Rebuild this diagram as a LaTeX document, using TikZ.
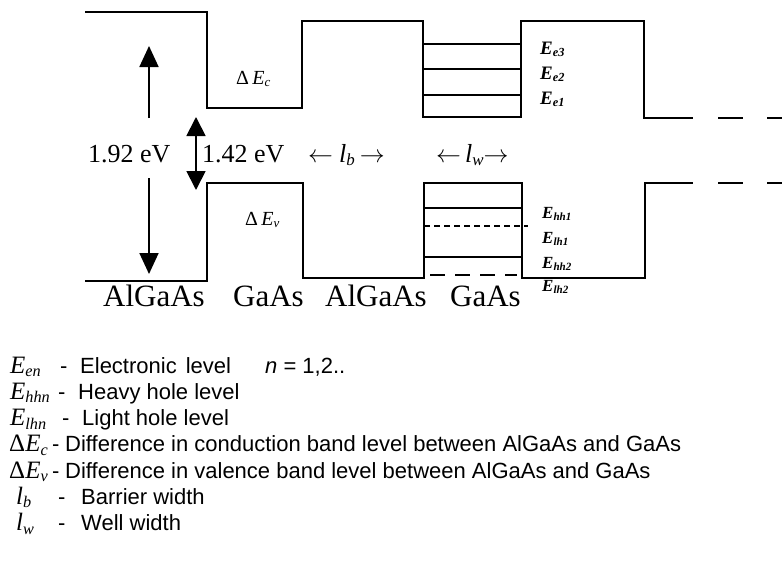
\documentclass[tikz,border=0pt]{standalone}
\usepackage{fontspec}
\usepackage{graphicx}
\setmainfont{Liberation Serif}
\setsansfont{Liberation Sans}
\usetikzlibrary{arrows.meta}
\newcommand\sbx[1]{\raisebox{-0.3ex}{\scalebox{0.65}{\itshape #1}}}
\newcommand\ES[2]{\textit{#1}\sbx{#2}}
\begin{document}
\begin{tikzpicture}[x=1pt,y=-1pt,
  band/.style={line width=1.5pt},
  lvl/.style={line width=1.4pt},
  bigarrow/.style={line width=1.8pt,-{Triangle[width=19pt,length=21pt]}},
  dblarrow/.style={line width=1.8pt,{Triangle[width=19pt,length=19pt]}-{Triangle[width=19pt,length=19pt]}},
  txt/.style={inner sep=0pt,anchor=base west},
  mid/.style={txt,font=\fontsize{26}{30}\selectfont},
  layer/.style={txt,font=\fontsize{31}{34}\selectfont},
  elab/.style={txt,font=\fontsize{19}{21}\selectfont\bfseries},
  hlab/.style={txt,font=\fontsize{17}{19}\selectfont\bfseries},
  dlab/.style={txt,font=\fontsize{20}{22}\selectfont},
  lsym/.style={txt,font=\fontsize{25}{27}\selectfont},
  ltxt/.style={txt,font=\sffamily\fontsize{22}{26}\selectfont}]
\useasboundingbox (0,0) rectangle (782,562);

% conduction band
\draw[band] (85,12) -- (207,12) -- (207,108) -- (302,108) -- (302,21) -- (423,21)
  -- (423,117) -- (521,117) -- (521,21) -- (644,21) -- (644,118) -- (693,118);
\draw[band] (718,118) -- (743,118);
\draw[band] (767,118) -- (782,118);
\draw[lvl] (423,44) -- (521,44);
\draw[lvl] (423,69) -- (521,69);
\draw[lvl] (423,95) -- (521,95);

% valence band
\draw[band] (85,281) -- (207,281) -- (207,183) -- (303,183) -- (303,278) -- (424,278)
  -- (424,183) -- (522,183) -- (522,278) -- (645,278) -- (645,183) -- (693,183);
\draw[band] (718,183) -- (743,183);
\draw[band] (767,183) -- (782,183);
\draw[lvl] (424,208) -- (522,208);
\draw[lvl,dash pattern=on 6pt off 4pt] (424,226) -- (528,226);
\draw[lvl] (424,257) -- (522,257);
\draw[lvl,dash pattern=on 15pt off 10pt] (430,275) -- (517,275);

% arrows
\coordinate (a1s) at (149,118);
\coordinate (a1e) at (149,46);
\coordinate (a2s) at (149,178);
\coordinate (a2e) at (149,274);
\coordinate (a3s) at (196,117);
\coordinate (a3e) at (196,190);
\draw[bigarrow] (a1s) -- (a1e);
\draw[bigarrow] (a2s) -- (a2e);
\draw[dblarrow] (a3s) -- (a3e);

% middle row
\node[mid] (t192) at (88,162) {1.92 eV};
\node[mid] (t142) at (202,162) {1.42 eV};
\node[mid] (tlb) at (308,162) {$\leftarrow$\hspace{6pt}\ES{l}{b}\hspace{5pt}$\rightarrow$};
\node[mid] (tlw) at (436,162) {$\leftarrow$\hspace{4pt}\ES{l}{w}$\rightarrow$};

% band labels
\node[dlab] (dec) at (236,84) {Δ\,\ES{E}{c}};
\node[dlab] (dev) at (245,225) {Δ\,\ES{E}{v}};
\node[elab] (e3) at (540,54) {\ES{E}{e3}};
\node[elab] (e2) at (540,79) {\ES{E}{e2}};
\node[elab] (e1) at (540,104) {\ES{E}{e1}};
\node[hlab] (h1) at (542,218) {\ES{E}{hh1}};
\node[hlab] (l1) at (542,243) {\ES{E}{lh1}};
\node[hlab] (h2) at (542,268) {\ES{E}{hh2}};
\node[hlab] (l2) at (542,291) {\ES{E}{lh2}};

% layer names
\node[layer] (m1) at (103,306) {AlGaAs};
\node[layer] (m2) at (233,306) {GaAs};
\node[layer] (m3) at (325,306) {AlGaAs};
\node[layer] (m4) at (450,306) {GaAs};

% legend
\node[lsym] (s1) at (10,373) {\ES{E}{en}};
\node[ltxt] (d1) at (60,373) {-};
\node[ltxt] (x1) at (80,373) {Electronic\hspace{9pt}level};
\node[ltxt] (n1) at (265,373) {\textit{n} = 1,2..};
\node[lsym] (s2) at (10,399.3) {\ES{E}{hhn}};
\node[ltxt] (d2) at (58,399.3) {-};
\node[ltxt] (x2) at (78,399.3) {Heavy hole level};
\node[lsym] (s3) at (10,425.6) {\ES{E}{lhn}};
\node[ltxt] (d3) at (62,425.6) {-};
\node[ltxt] (x3) at (82,425.6) {Light hole level};
\node[lsym] (s4) at (9,451.9) {Δ\ES{E}{c}};
\node[ltxt] (d4) at (52,451.9) {-};
\node[ltxt] (x4) at (65,451.9) {Difference in conduction band level between AlGaAs and GaAs};
\node[lsym] (s5) at (9,478.2) {Δ\ES{E}{v}};
\node[ltxt] (d5) at (52,478.2) {-};
\node[ltxt] (x5) at (65,478.2) {Difference in valence band level between AlGaAs and GaAs};
\node[lsym] (s6) at (16,504.5) {\ES{l}{b}};
\node[ltxt] (d6) at (58,504.5) {-};
\node[ltxt] (x6) at (81,504.5) {Barrier width};
\node[lsym] (s7) at (16,530.8) {\ES{l}{w}};
\node[ltxt] (d7) at (58,530.8) {-};
\node[ltxt] (x7) at (81,530.8) {Well width};
\end{tikzpicture}
\end{document}
